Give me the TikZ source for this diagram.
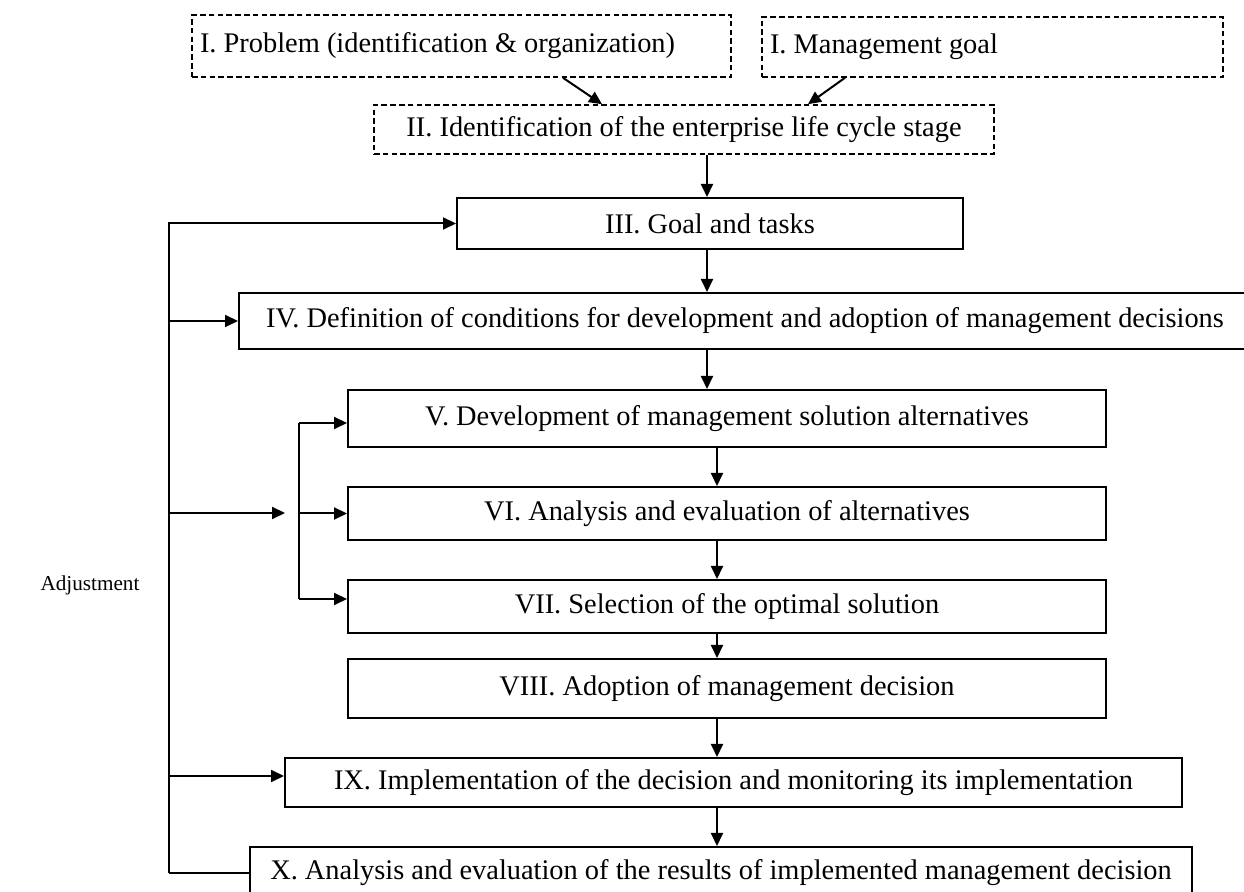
\documentclass[tikz,border=0pt]{standalone}
\usepackage{fontspec}
\setmainfont{Liberation Serif}
\usetikzlibrary{arrows.meta, positioning, calc}
\tikzset{
  >=Triangle,
  stage/.style={
    draw=black, fill=white, line width=1pt,
    inner sep=4pt, align=center, font=\fontsize{14.2}{17}\selectfont
  },
  prelim/.style={stage, line width=0.8pt, dash pattern=on 2.8pt off 1.6pt},
  arr/.style={-{Triangle[length=6.5pt,width=6pt]}, line width=1pt},
  link/.style={line width=1pt}
}
\begin{document}
\begin{tikzpicture}[x=0.5pt,y=-0.5pt]
  \useasboundingbox (0,0) rectangle (1244,892);
  % dashed preliminary stages
  \node[prelim, text width=261.5pt, minimum height=31pt, align=flush left] (prob) at (461.5,46)
    {I. Problem (identification \& organization)};
  \node[prelim, text width=222.5pt, minimum height=30pt, align=flush left] (mgoal) at (992.5,47)
    {I. Management goal};
  \node[prelim, minimum width=310pt, minimum height=24.5pt] (lifecyc) at (684,129.5)
    {II. Identification of the enterprise life cycle stage};
  % main stages
  \node[stage, minimum width=253pt, minimum height=25.5pt] (goal) at (710,223.5)
    {III. Goal and tasks};
  \node[stage, minimum width=506pt, minimum height=28pt] (cond) at (745,321)
    {IV. Definition of conditions for development and adoption of management decisions};
  \node[stage, minimum width=379pt, minimum height=28.5pt] (altdev) at (727,418.5)
    {V. Development of management solution alternatives};
  \node[stage, minimum width=379pt, minimum height=26.5pt] (alteval) at (727,513.5)
    {VI. Analysis and evaluation of alternatives};
  \node[stage, minimum width=379pt, minimum height=26.5pt] (optsel) at (727,606.5)
    {VII. Selection of the optimal solution};
  \node[stage, minimum width=379pt, minimum height=29.5pt] (adopt) at (727,688.5)
    {VIII. Adoption of management decision};
  \node[stage, minimum width=448.5pt, minimum height=24.5pt] (implem) at (733.5,782.5)
    {IX. Implementation of the decision and monitoring its implementation};
  \node[stage, minimum width=471pt, minimum height=26pt] (reseval) at (721,873)
    {X. Analysis and evaluation of the results of implemented management decision};
  \node[font=\fontsize{10.6}{12}\selectfont] (adjlbl) at (90,585) {Adjustment};

  % main flow
  \coordinate (axisup) at (707,0);
  \coordinate (axis) at (717,0);
  \draw[arr] ([xshift=50.75pt]prob.south) -- ([xshift=-41pt]lifecyc.north);
  \draw[arr] ([xshift=-73.75pt]mgoal.south) -- ([xshift=62pt]lifecyc.north);
  \draw[arr] (lifecyc.south -| axisup) -- (goal.north -| axisup);
  \draw[arr] (goal.south -| axisup) -- (cond.north -| axisup);
  \draw[arr] (cond.south -| axisup) -- (altdev.north -| axisup);
  \draw[arr] (altdev.south -| axis) -- (alteval.north -| axis);
  \draw[arr] (alteval.south -| axis) -- (optsel.north -| axis);
  \draw[arr] (optsel.south -| axis) -- (adopt.north -| axis);
  \draw[arr] (adopt.south -| axis) -- (implem.north -| axis);
  \draw[arr] (implem.south -| axis) -- (reseval.north -| axis);

  % adjustment loop
  \coordinate (fbx) at (169,0);
  \coordinate (brx) at (299,0);
  \coordinate (split) at (285,513);
  \coordinate (vin) at ([yshift=-2.25pt]altdev.west);
  \coordinate (viiin) at ([yshift=3.75pt]optsel.west);
  \coordinate (ixin) at ([yshift=3.25pt]implem.west);
  \draw[link] (fbx |- reseval.west) -- (reseval.west);
  \draw[arr] (fbx |- reseval.west) -- (fbx |- goal.west) -- (goal.west);
  \draw[arr] (fbx |- cond.west) -- (cond.west);
  \draw[arr] (fbx |- split) -- (split);
  \draw[arr] (fbx |- ixin) -- (ixin);
  \draw[link] (brx |- vin) -- (brx |- viiin);
  \draw[arr] (brx |- vin) -- (vin);
  \draw[arr] (brx |- alteval.west) -- (alteval.west);
  \draw[arr] (brx |- viiin) -- (viiin);
\end{tikzpicture}
\end{document}
